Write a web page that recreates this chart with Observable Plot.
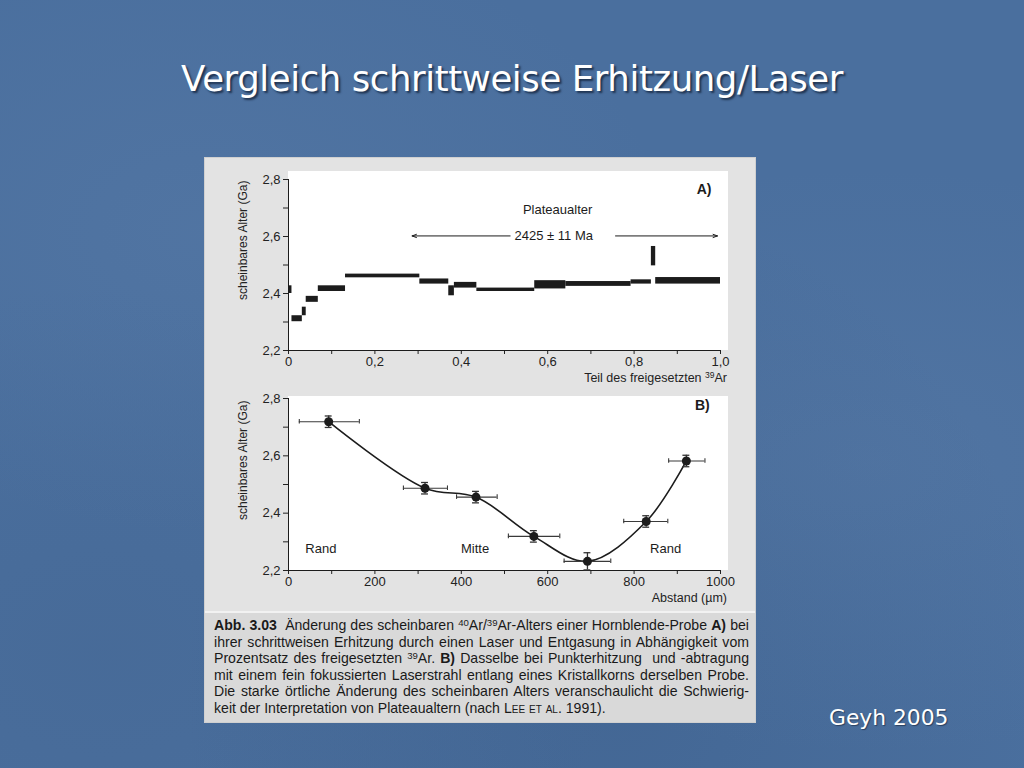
<!DOCTYPE html>
<html>
<head>
<meta charset="utf-8">
<script src="https://cdn.jsdelivr.net/npm/d3@7"></script>
<script src="https://cdn.jsdelivr.net/npm/@observablehq/plot@0.6"></script>
<style>
  html, body { margin: 0; padding: 0; }
  body {
    width: 1024px; height: 768px; overflow: hidden; position: relative;
    background-color: #4a6f9e;
    background-image:
      radial-gradient(ellipse at 20% 30%, rgba(110,140,180,0.18), rgba(0,0,0,0) 40%),
      radial-gradient(ellipse at 85% 60%, rgba(110,140,180,0.18), rgba(0,0,0,0) 45%),
      radial-gradient(ellipse at 60% 90%, rgba(40,70,110,0.2), rgba(0,0,0,0) 50%),
      radial-gradient(ellipse at 10% 85%, rgba(60,90,130,0.2), rgba(0,0,0,0) 40%);
    font-family: "Liberation Sans", Arial, sans-serif;
  }
  #title {
    position: absolute; left: 0; width: 1024px; top: 58px; text-align: center;
    font-family: "DejaVu Sans", sans-serif; font-size: 35.5px; color: #fff;
    text-shadow: 2px 2px 2px #1f3350; letter-spacing: -0.4px;
  }
  #credit {
    position: absolute; left: 829px; top: 705px;
    font-family: "DejaVu Sans", sans-serif; font-size: 21.8px; color: #fff;
    text-shadow: 1px 1px 1px #2a4060;
  }
  #panel {
    position: absolute; left: 205px; top: 158px; width: 550px; height: 564px;
    background: #e3e3e3; box-shadow: 0 0 0 1px #d0d0d0;
  }
  .white { position: absolute; background: #fff; }
  .chart { position: absolute; left: 205px; }
  .ylab {
    position: absolute; font-size: 12px; color: #222; white-space: nowrap;
    transform: rotate(-90deg); transform-origin: 0 0;
  }
  .xlab {
    position: absolute; right: 297px; font-size: 12.5px; line-height: 14px; color: #222; white-space: nowrap;
  }
  #caption {
    position: absolute; left: 205px; top: 611px; width: 550px; height: 111px;
    background: #d9d9d9; border-top: 2px solid #f2f2f2; box-sizing: border-box;
    padding: 4px 0 0 9px; font-size: 14.1px; color: #1a1a1a; line-height: 16.6px;
  }
  #caption .l { width: 535px; text-align: justify; text-align-last: justify; white-space: nowrap; }
  #caption .l.last { text-align-last: left; }
  sup { font-size: 0.68em; vertical-align: 0.45em; line-height: 0; }
  .sc { font-variant: small-caps; }
</style>
</head>
<body>
<div id="title">Vergleich schrittweise Erhitzung/Laser</div>
<div id="panel"></div>
<div class="white" style="left:288px; top:171px; width:440px; height:179px;"></div>
<div class="white" style="left:288px; top:396px; width:440px; height:174px;"></div>
<div id="chartA" class="chart" style="top:160px;"></div>
<div id="chartB" class="chart" style="top:390px;"></div>
<div class="ylab" style="left:236px; top:300px;">scheinbares Alter (Ga)</div>
<div class="ylab" style="left:236px; top:520px;">scheinbares Alter (Ga)</div>
<div class="xlab" style="top:371px;">Teil des freigesetzten <sup>39</sup>Ar</div>
<div class="xlab" style="top:591px;">Abstand (µm)</div>
<div id="caption">
  <div class="l"><b>Abb. 3.03</b>&nbsp; Änderung des scheinbaren <sup>40</sup>Ar/<sup>39</sup>Ar-Alters einer Hornblende-Probe <b>A)</b> bei</div>
  <div class="l">ihrer schrittweisen Erhitzung durch einen Laser und Entgasung in Abhängigkeit vom</div>
  <div class="l">Prozentsatz des freigesetzten <sup>39</sup>Ar. <b>B)</b> Dasselbe bei Punkterhitzung&nbsp; und -abtragung</div>
  <div class="l">mit einem fein fokussierten Laserstrahl entlang eines Kristallkorns derselben Probe.</div>
  <div class="l">Die starke örtliche Änderung des scheinbaren Alters veranschaulicht die Schwierig-</div>
  <div class="l last">keit der Interpretation von Plateaualtern (nach L<span class="sc">ee et al</span>. 1991).</div>
</div>
<div id="credit">Geyh 2005</div>
<script>
// ---- Chart A: step-heating spectrum ----
const stepX0 = [0.000, 0.008, 0.032, 0.041, 0.069, 0.132, 0.304, 0.371, 0.384, 0.436, 0.570, 0.642, 0.793, 0.840, 0.850];
const stepX1 = [0.008, 0.032, 0.041, 0.069, 0.132, 0.304, 0.371, 0.384, 0.436, 0.570, 0.642, 0.793, 0.840, 0.850, 1.000];
const stepLo = [2.400, 2.301, 2.322, 2.369, 2.407, 2.455, 2.433, 2.392, 2.419, 2.407, 2.416, 2.425, 2.433, 2.497, 2.433];
const stepHi = [2.427, 2.322, 2.352, 2.390, 2.427, 2.468, 2.451, 2.427, 2.439, 2.419, 2.445, 2.442, 2.448, 2.565, 2.456];
const xTicksA = [0, 0.1, 0.2, 0.3, 0.4, 0.5, 0.6, 0.7, 0.8, 0.9, 1.0];
const yTicks = [2.2, 2.3, 2.4, 2.5, 2.6, 2.7, 2.8];
const arrowFrom = [0.513, 0.757];
const arrowTo = [0.286, 0.993];
const arrowY = 2.602;
const plateauLabel = "2425 ± 11 Ma";

// ---- Chart B: laser spot profile ----
const distance = [93, 316, 434, 568, 692, 828, 921];
const age = [2.719, 2.487, 2.456, 2.319, 2.232, 2.371, 2.582];
const distLo = [25, 266, 389, 509, 638, 776, 880];
const distHi = [164, 368, 483, 628, 746, 878, 964];
const ageErr = [0.02, 0.02, 0.02, 0.02, 0.03, 0.02, 0.02];
const xTicksB = [0, 100, 200, 300, 400, 500, 600, 700, 800, 900, 1000];
const zoneLabels = ["Rand", "Mitte", "Rand"];
const zoneX = [75, 432, 873];
const zoneY = 2.274;

const comma = d => Math.abs(d) < 1e-9 ? "0" : d.toFixed(1).replace(".", ",");
const yFmt = d => (Math.round(d * 10) % 2 === 0) ? comma(d) : "";
const ink = "#1c1c1c";

const steps = stepX0.map((x0, i) => ({x0, x1: stepX1[i], lo: stepLo[i], hi: stepHi[i]}));
const arrows = arrowFrom.map((a, i) => ({x1: a, x2: arrowTo[i], y: arrowY}));

const common = {
  width: 550,
  style: {fontFamily: "Liberation Sans, Arial, sans-serif", fontSize: "13px", color: "#222", background: "transparent"}
};

const A = Plot.plot({
  ...common,
  height: 230, marginLeft: 83, marginRight: 35, marginTop: 19, marginBottom: 40,
  x: {domain: [0, 1]},
  y: {domain: [2.2, 2.8]},
  marks: [
    Plot.axisY({ticks: yTicks, tickFormat: yFmt, tickSize: 5, tickPadding: 3, label: null, fontSize: 13}),
    Plot.axisX({ticks: xTicksA, tickFormat: d => (Math.round(d * 10) % 2 === 0) ? comma(d) : "", tickSize: 4, tickPadding: 2,
      label: null, fontSize: 13}),
    Plot.ruleX([0], {stroke: ink}),
    Plot.ruleY([2.2], {stroke: ink}),
    Plot.rect(steps, {x1: "x0", x2: "x1", y1: "lo", y2: "hi", fill: ink}),
    Plot.arrow(arrows, {x1: "x1", x2: "x2", y1: "y", y2: "y", stroke: ink, strokeWidth: 1, headLength: 7, headAngle: 40}),
    Plot.text([plateauLabel], {x: 0.614, y: arrowY, text: d => d, fontSize: 13, fill: ink, stroke: "white", strokeWidth: 6}),
    Plot.text(["Plateaualter"], {x: 0.623, y: 2.692, text: d => d, fontSize: 13, fill: ink}),
    Plot.text(["A)"], {x: 0.962, y: 2.765, text: d => d, fontSize: 14, fontWeight: "bold", fill: ink})
  ]
});
document.getElementById("chartA").append(A);

const pts = distance.map((x, i) => ({x, y: age[i], lo: distLo[i], hi: distHi[i], e: ageErr[i]}));

const B = Plot.plot({
  ...common,
  height: 220, marginLeft: 83, marginRight: 35, marginTop: 8, marginBottom: 40,
  x: {domain: [0, 1000]},
  y: {domain: [2.2, 2.8]},
  marks: [
    Plot.axisY({ticks: yTicks, tickFormat: yFmt, tickSize: 5, tickPadding: 3, label: null, fontSize: 13}),
    Plot.axisX({ticks: xTicksB, tickFormat: d => d % 200 === 0 ? String(d) : "", tickSize: 4, tickPadding: 2,
      label: null, fontSize: 13}),
    Plot.ruleX([0], {stroke: ink}),
    Plot.ruleY([2.2], {stroke: ink}),
    Plot.line(pts, {x: "x", y: "y", curve: "catmull-rom", stroke: ink, strokeWidth: 1.6}),
    Plot.ruleY(pts, {x1: "lo", x2: "hi", y: "y", stroke: "#3a3a3a", strokeWidth: 1.1}),
    Plot.ruleX(pts, {x: "lo", y1: d => d.y - 0.008, y2: d => d.y + 0.008, stroke: "#3a3a3a", strokeWidth: 1.1}),
    Plot.ruleX(pts, {x: "hi", y1: d => d.y - 0.008, y2: d => d.y + 0.008, stroke: "#3a3a3a", strokeWidth: 1.1}),
    Plot.ruleX(pts, {x: "x", y1: d => d.y - d.e, y2: d => d.y + d.e, stroke: "#333", strokeWidth: 1.3}),
    Plot.ruleY(pts, {x1: d => d.x - 8, x2: d => d.x + 8, y: d => d.y + d.e, stroke: "#333", strokeWidth: 1.3}),
    Plot.ruleY(pts, {x1: d => d.x - 8, x2: d => d.x + 8, y: d => d.y - d.e, stroke: "#333", strokeWidth: 1.3}),
    Plot.dot(pts, {x: "x", y: "y", r: 4.5, fill: ink}),
    Plot.text(zoneLabels, {x: (d, i) => zoneX[i], y: zoneY, text: d => d, fontSize: 13, fill: ink}),
    Plot.text(["B)"], {x: 958, y: 2.776, text: d => d, fontSize: 14, fontWeight: "bold", fill: ink})
  ]
});
document.getElementById("chartB").append(B);
</script>
</body>
</html>
